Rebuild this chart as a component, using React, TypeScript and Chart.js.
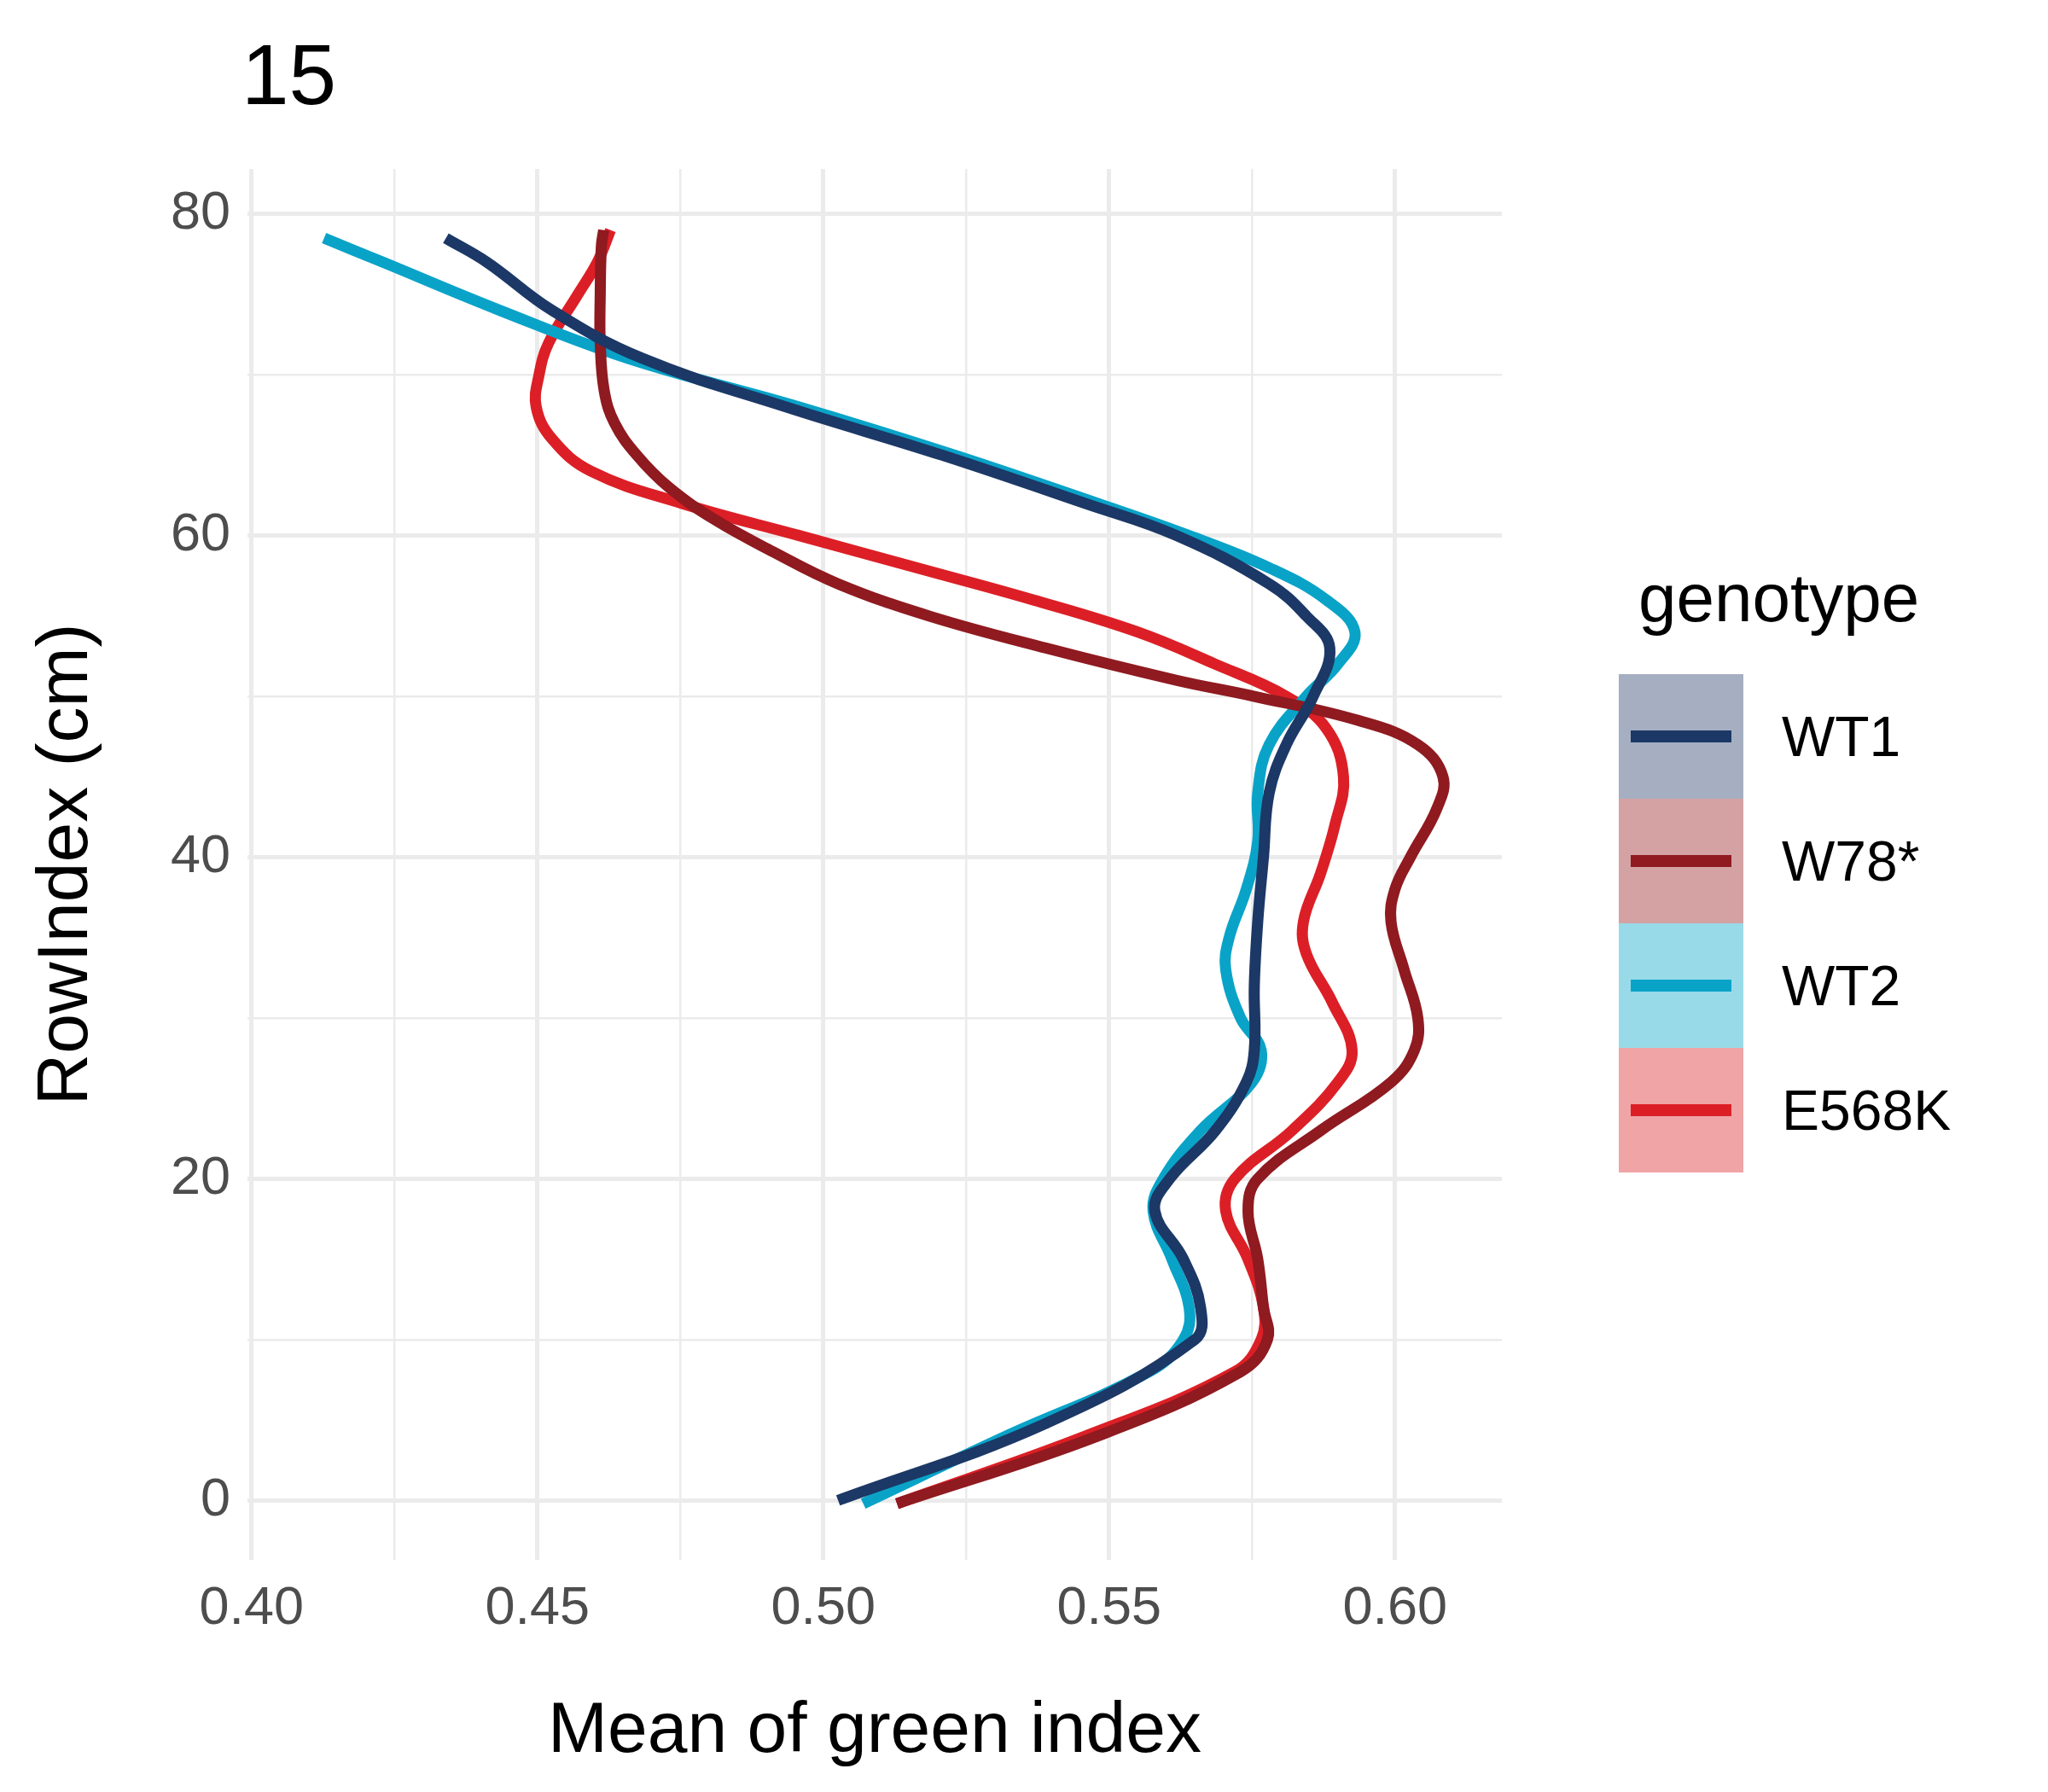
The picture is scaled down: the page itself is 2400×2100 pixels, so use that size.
import React, { useEffect, useRef } from "react";
import { Chart, registerables } from "chart.js";
Chart.register(...registerables);

const rows_WT1 = [0, 4.8, 10, 12, 15, 18, 20, 23, 26, 28, 32, 36, 40, 44, 47, 50, 53, 55, 57, 60, 62, 65, 68, 71, 74, 77, 78.5];
const green_WT1 = [0.5026, 0.539, 0.565, 0.566, 0.563, 0.558, 0.5606, 0.5686, 0.574, 0.5754, 0.5754, 0.576, 0.577, 0.578, 0.581, 0.5857, 0.5886, 0.5845, 0.578, 0.5618, 0.5458, 0.5208, 0.4935, 0.4685, 0.4526, 0.4412, 0.434];
const rows_W78 = [-0.2, 4, 8, 10, 12, 15, 18, 20, 23, 26, 28, 30, 33, 36, 38, 40, 43, 45, 47, 48.5, 50, 51, 53, 55, 57, 59, 61, 63, 65, 67, 69, 72, 75, 78, 79];
const green_W78 = [0.5129, 0.548, 0.573, 0.5777, 0.577, 0.576, 0.5743, 0.576, 0.587, 0.5993, 0.6034, 0.604, 0.6016, 0.5993, 0.6, 0.6027, 0.6073, 0.6084, 0.604, 0.5936, 0.5754, 0.5618, 0.539, 0.5185, 0.5026, 0.4912, 0.481, 0.473, 0.4674, 0.4635, 0.4617, 0.461, 0.461, 0.4612, 0.4616];
const rows_WT2 = [-0.2, 4, 8, 10, 12, 15, 18, 20, 23, 26, 28, 30, 33, 35, 38, 41, 44, 47, 50, 52, 54, 56, 58, 60, 62, 65, 68, 71, 74, 77, 78.5];
const green_WT2 = [0.507, 0.532, 0.557, 0.563, 0.564, 0.561, 0.5577, 0.5595, 0.566, 0.575, 0.5766, 0.573, 0.5704, 0.571, 0.574, 0.576, 0.576, 0.578, 0.5845, 0.59, 0.593, 0.588, 0.578, 0.564, 0.548, 0.523, 0.4958, 0.466, 0.4435, 0.423, 0.4127];
const rows_E568K = [-0.2, 4, 8, 10, 12, 15, 18, 20, 23, 26, 28, 31, 34, 36, 39, 42, 45, 48, 50, 52, 54, 56, 58, 60, 62, 64, 66, 68, 70, 72, 75, 77, 79];
const green_E568K = [0.5129, 0.5459, 0.572, 0.5766, 0.577, 0.5743, 0.5704, 0.572, 0.582, 0.59, 0.5925, 0.589, 0.5845, 0.584, 0.587, 0.5895, 0.591, 0.588, 0.581, 0.5686, 0.555, 0.5367, 0.5163, 0.4958, 0.4753, 0.4594, 0.4526, 0.4498, 0.4503, 0.452, 0.4571, 0.4605, 0.4628];

const genotypes = ["WT1", "W78*", "WT2", "E568K"];
const colors = ["#1c3866", "#8f1a20", "#0aa3c8", "#dc1f26"];
const fills = ["#a5afc1", "#d4a2a3", "#98dae8", "#f0a4a6"];
const series = [
  [rows_WT1, green_WT1],
  [rows_W78, green_W78],
  [rows_WT2, green_WT2],
  [rows_E568K, green_E568K],
];

const FONT = "'Liberation Sans', Arial, sans-serif";

export default function App() {
  const ref = useRef<HTMLCanvasElement>(null);
  useEffect(() => {
    const chart = new Chart(ref.current!, {
      type: "scatter",
      data: {
        datasets: series.map(([ys, xs], i) => ({
          label: genotypes[i],
          data: xs.map((x, k) => ({ x, y: ys[k] })),
          showLine: true,
          borderColor: colors[i],
          borderWidth: 13,
          pointRadius: 0,
          tension: 0.4,
          fill: false,
        })),
      },
      options: {
        animation: false,
        responsive: false,
        layout: { padding: { top: 198, right: 640, left: 28, bottom: 20 } },
        plugins: { legend: { display: false }, tooltip: { enabled: false } },
        scales: {
          x: {
            type: "linear",
            min: 0.3993,
            max: 0.6187,
            border: { display: false },
            afterBuildTicks: (s: any) => {
              const t = [];
              for (let v = 0.4; v <= 0.6001; v += 0.025) t.push({ value: Math.round(v * 1000) / 1000 });
              s.ticks = t;
            },
            grid: {
              color: "#ebebeb",
              lineWidth: (c: any) => (Math.round(c.tick.value * 1000) % 50 === 0 ? 5 : 2.5),
              drawTicks: false,
            },
            ticks: {
              color: "#4d4d4d",
              font: { family: FONT, size: 63 },
              padding: 20,
              maxRotation: 0,
              autoSkip: false,
              callback: (v: any) => (Math.round(v * 1000) % 50 === 0 ? Number(v).toFixed(2) : ""),
            },
            title: { display: true, text: "Mean of green index", color: "#000", font: { family: FONT, size: 84 }, padding: { top: 0, bottom: 0 } },
            afterFit: (s: any) => { s.height = 252; },
          },
          y: {
            type: "linear",
            min: -3.7,
            max: 82.8,
            border: { display: false },
            afterBuildTicks: (s: any) => {
              const t = [];
              for (let v = 0; v <= 80; v += 10) t.push({ value: v });
              s.ticks = t;
            },
            grid: {
              color: "#ebebeb",
              lineWidth: (c: any) => (c.tick.value % 20 === 0 ? 5 : 2.5),
              drawTicks: false,
            },
            ticks: {
              color: "#4d4d4d",
              font: { family: FONT, size: 63 },
              padding: 20,
              autoSkip: false,
              callback: (v: any) => (v % 20 === 0 ? String(v) : ""),
            },
            title: { display: true, text: "RowIndex (cm)", color: "#000", font: { family: FONT, size: 84 }, padding: { bottom: 0, top: 0 } },
            afterFit: (s: any) => { s.width = 262; },
          },
        },
      },
    });
    return () => chart.destroy();
  }, []);

  return (
    <div style={{ position: "absolute", left: 0, top: 0, width: 2400, height: 2100, background: "#fff", fontFamily: FONT }}>
      <canvas ref={ref} width={2400} height={2100} style={{ width: 2400, height: 2100, display: "block" }} />
      <div style={{ position: "absolute", left: 283, top: 30, fontSize: 100, color: "#000" }}>15</div>
      <div style={{ position: "absolute", left: 1920, top: 655, fontSize: 80, color: "#000" }}>genotype</div>
      {genotypes.map((g, i) => (
        <div key={g} style={{ position: "absolute", left: 1922 - 25, top: 790 + i * 146, height: 146, display: "flex", alignItems: "center" }}>
          <div style={{ width: 146, height: 146, background: fills[i], position: "relative" }}>
            <div style={{ position: "absolute", left: 14, right: 14, top: 66, height: 14, background: colors[i] }} />
          </div>
          <div style={{ marginLeft: 45, fontSize: 66, color: "#000" }}>{g}</div>
        </div>
      ))}
    </div>
  );
}
